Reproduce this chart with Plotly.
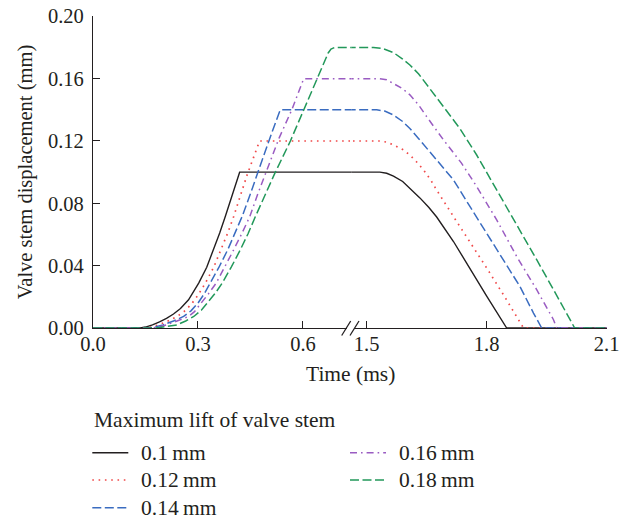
import plotly.graph_objects as go

# ---- data: valve stem displacement (mm) against time (ms) ----
lift_names = ["0.1\u2009mm", "0.12\u2009mm", "0.14\u2009mm", "0.16\u2009mm", "0.18\u2009mm"]
legend_title = "Maximum lift of valve stem"

t_010 = [0.0, 0.135, 0.15, 0.17, 0.19, 0.21, 0.23, 0.25, 0.273, 0.302, 0.325, 0.345, 0.362, 0.378, 0.4, 0.419,
         0.75, 1.45, 1.533, 1.55, 1.567, 1.59, 1.608, 1.633, 1.655, 1.675, 1.717, 1.758, 1.8, 1.85, 2.1]
d_010 = [0.0, 0.0, 0.0006, 0.002, 0.004, 0.0062, 0.009, 0.0125, 0.0181, 0.0288, 0.039, 0.0502, 0.061, 0.0715, 0.086, 0.100,
         0.100, 0.100, 0.100, 0.0993, 0.0975, 0.094, 0.0897, 0.0835, 0.0775, 0.0712, 0.0555, 0.038, 0.0205, 0.0, 0.0]

t_012 = [0.0, 0.15, 0.165, 0.18, 0.21, 0.24, 0.26, 0.28, 0.30, 0.321, 0.345, 0.366, 0.385, 0.402, 0.42, 0.44, 0.476,
         0.75, 1.45, 1.533, 1.55, 1.567, 1.59, 1.608, 1.625, 1.642, 1.66, 1.675, 1.717, 1.758, 1.8, 1.842, 1.875, 1.892, 2.1]
d_012 = [0.0, 0.0, 0.0006, 0.0015, 0.004, 0.0074, 0.0105, 0.015, 0.021, 0.0288, 0.039, 0.0502, 0.061, 0.0715, 0.084, 0.098, 0.120,
         0.120, 0.120, 0.120, 0.1193, 0.1175, 0.1145, 0.111, 0.1065, 0.1015, 0.095, 0.0885, 0.0715, 0.0555, 0.0385, 0.0213, 0.0074, 0.0, 0.0]

t_014 = [0.0, 0.16, 0.18, 0.2, 0.23, 0.259, 0.28, 0.3, 0.318, 0.335, 0.36, 0.385, 0.405, 0.426, 0.448, 0.468, 0.49, 0.512, 0.535,
         0.75, 1.45, 1.525, 1.545, 1.567, 1.59, 1.608, 1.63, 1.65, 1.67, 1.69, 1.717, 1.758, 1.8, 1.842, 1.883, 1.917, 1.9375, 2.1]
d_014 = [0.0, 0.0, 0.0008, 0.002, 0.0045, 0.0074, 0.011, 0.016, 0.022, 0.0288, 0.039, 0.0502, 0.0605, 0.0715, 0.085, 0.0985, 0.112, 0.126, 0.140,
         0.140, 0.140, 0.140, 0.1392, 0.1367, 0.1325, 0.128, 0.1215, 0.1155, 0.1095, 0.1035, 0.095, 0.078, 0.0609, 0.0438, 0.0267, 0.0096, 0.0, 0.0]

t_016 = [0.0, 0.17, 0.19, 0.21, 0.24, 0.273, 0.29, 0.31, 0.33, 0.352, 0.377, 0.402, 0.425, 0.448, 0.47, 0.494, 0.513, 0.532, 0.55, 0.568, 0.585, 0.602,
         0.75, 1.45, 1.533, 1.55, 1.567, 1.59, 1.608, 1.63, 1.65, 1.67, 1.692, 1.737, 1.775, 1.825, 1.875, 1.925, 1.967, 1.975, 2.1]
d_016 = [0.0, 0.0, 0.0008, 0.002, 0.0045, 0.0074, 0.0105, 0.016, 0.022, 0.0288, 0.039, 0.0502, 0.0605, 0.0715, 0.0855, 0.100, 0.111, 0.122, 0.131, 0.140, 0.150, 0.160,
         0.160, 0.160, 0.160, 0.1593, 0.157, 0.1535, 0.1496, 0.143, 0.1356, 0.1285, 0.1207, 0.1058, 0.0908, 0.0694, 0.0459, 0.0246, 0.0053, 0.0, 0.0]

t_018 = [0.0, 0.18, 0.2, 0.22, 0.24, 0.265, 0.288, 0.31, 0.33, 0.35, 0.369, 0.395, 0.421, 0.443, 0.464, 0.492, 0.521, 0.564, 0.602, 0.642, 0.66, 0.672, 0.68, 0.69,
         0.75, 1.45, 1.517, 1.54, 1.567, 1.59, 1.608, 1.63, 1.65, 1.692, 1.733, 1.775, 1.842, 1.883, 1.925, 1.967, 2.0125, 2.02, 2.1]
d_018 = [0.0, 0.0, 0.0006, 0.0013, 0.002, 0.0045, 0.0074, 0.0115, 0.017, 0.0225, 0.0288, 0.039, 0.0502, 0.0605, 0.0715, 0.0855, 0.100, 0.120, 0.140, 0.160, 0.170, 0.1765, 0.179, 0.180,
         0.180, 0.180, 0.180, 0.1793, 0.1767, 0.1725, 0.1688, 0.163, 0.156, 0.142, 0.128, 0.111, 0.081, 0.063, 0.0438, 0.0246, 0.0032, 0.0, 0.0]

series_t = [t_010, t_012, t_014, t_016, t_018]
series_d = [d_010, d_012, d_014, d_016, d_018]

y_ticks = [0.0, 0.04, 0.08, 0.12, 0.16, 0.20]
x_ticks_left = [0.0, 0.3, 0.6]
x_ticks_right = [1.5, 1.8, 2.1]

# ---- styling ----
INK = "#231f20"
FONT = "Liberation Serif"
colors = [INK, "#f04848", "#3a6cc0", "#9a5cc2", "#22985a"]
dashes = ["solid", "1.6px,4.7px", "9px,3.5px", "7px,4px,1.6px,4px", "9px,3.5px"]
widths = [1.4, 1.7, 1.5, 1.5, 1.5]

W, H = 629, 520
M_L, M_R, M_T, M_B = 93, 22, 16, 192
PW, PH = W - M_L - M_R, H - M_T - M_B
BREAK = 0.5025          # paper x of the axis break


def px_x(px):
    return (px - M_L) / PW


def px_y(py):
    return (M_T + PH - py) / PH


fig = go.Figure()
for i in range(5):
    t, d = series_t[i], series_d[i]
    line = dict(color=colors[i], dash=dashes[i], width=widths[i])
    left = [(a, b) for a, b in zip(t, d) if a < 1.0]
    right = [(a, b) for a, b in zip(t, d) if a > 1.0]
    fig.add_trace(go.Scatter(
        x=[p[0] for p in left], y=[p[1] for p in left], mode="lines", line=line,
        name=lift_names[i], legendgroup=lift_names[i], showlegend=False,
        xaxis="x", yaxis="y"))
    fig.add_trace(go.Scatter(
        x=[p[0] for p in right], y=[p[1] for p in right], mode="lines", line=line,
        name=lift_names[i], legendgroup=lift_names[i], showlegend=False,
        xaxis="x2", yaxis="y"))

axis_common = dict(
    showline=True, linecolor=INK, linewidth=1.3, ticks="inside", ticklen=7,
    tickwidth=1.2, tickcolor=INK, showgrid=False, zeroline=False,
    tickfont=dict(family=FONT, size=20.5, color=INK), layer="below traces",
)

fig.update_layout(
    width=W, height=H,
    margin=dict(l=M_L, r=M_R, t=M_T, b=M_B, autoexpand=False),
    paper_bgcolor="white", plot_bgcolor="white",
    font=dict(family=FONT, size=20, color=INK),
    showlegend=False,
    xaxis=dict(domain=[0, BREAK], range=[0, 0.738], tickvals=x_ticks_left,
               tickformat=".1f", anchor="y", ticklabelstandoff=-3, **axis_common),
    xaxis2=dict(domain=[BREAK, 1], range=[1.4615, 2.1008], tickvals=x_ticks_right,
                tickformat=".1f", anchor="y", ticklabelstandoff=-3, **axis_common),
    yaxis=dict(range=[0, 0.2002], tickvals=y_ticks, tickformat=".2f", anchor="x",
               ticklabelstandoff=4,
               title=dict(text="Valve stem displacement (mm)",
                          font=dict(family=FONT, size=20.5, color=INK), standoff=9),
               **axis_common),
)

# x-axis title centred under both axis segments
fig.add_annotation(text="Time (ms)", xref="paper", yref="paper", x=0.5, y=px_y(374),
                   xanchor="center", yanchor="middle", showarrow=False,
                   font=dict(family=FONT, size=21.5, color=INK))

# axis break marks "//"
fig.add_shape(type="rect", xref="paper", yref="paper",
              x0=px_x(347), x1=px_x(354), y0=px_y(330), y1=px_y(326.5),
              fillcolor="white", line=dict(width=0), layer="above")
for cx in (346.2, 354.5):
    fig.add_shape(type="line", xref="paper", yref="paper",
                  x0=px_x(cx - 4.5), y0=px_y(335.5), x1=px_x(cx + 4.5), y1=px_y(321),
                  line=dict(color=INK, width=1.3), layer="above")

# key: title and two columns of line samples with labels
LEG_FONT = dict(family=FONT, size=21.5, color=INK)
fig.add_annotation(text=legend_title, xref="paper", yref="paper", x=px_x(92), y=px_y(420),
                   xanchor="left", yanchor="middle", showarrow=False, font=LEG_FONT)
key_pos = [(92.3, 452.7), (92.3, 480.0), (92.3, 507.7), (350.0, 452.7), (350.0, 480.0)]
for i, (kx, ky) in enumerate(key_pos):
    fig.add_shape(type="line", xref="paper", yref="paper",
                  x0=px_x(kx), x1=px_x(kx + 36), y0=px_y(ky), y1=px_y(ky),
                  line=dict(color=colors[i], dash=dashes[i], width=widths[i]))
    fig.add_annotation(text=lift_names[i], xref="paper", yref="paper",
                       x=px_x(kx + 47), y=px_y(ky), xanchor="left", yanchor="middle",
                       showarrow=False, font=LEG_FONT)

fig.write_html("out.html")
